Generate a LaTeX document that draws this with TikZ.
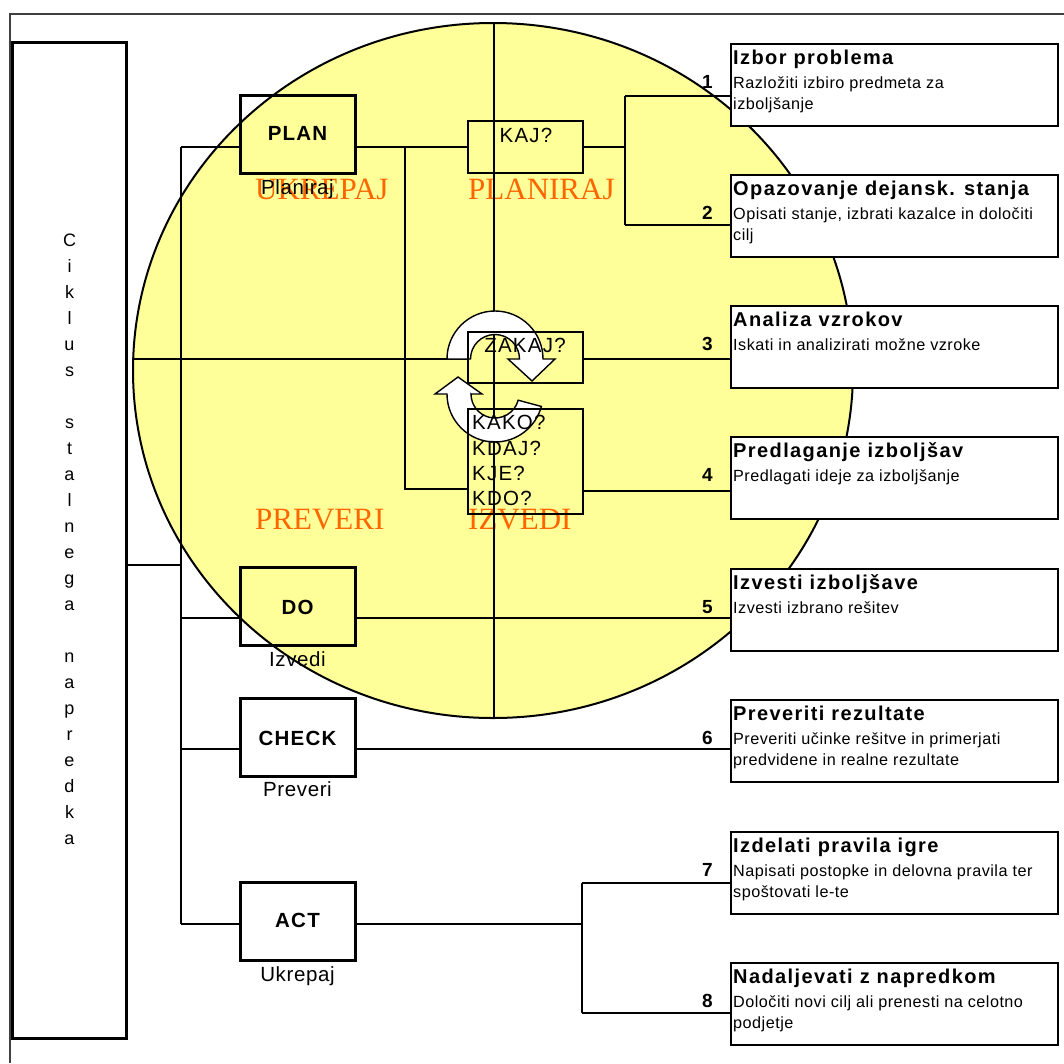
\documentclass[tikz,border=0pt]{standalone}
\usepackage{fontspec}
\setmainfont{Liberation Sans}
\newfontfamily\fTitle[LetterSpace=7]{Liberation Sans}
\newfontfamily\fDesc[LetterSpace=3]{Liberation Sans}
\newfontfamily\fPd[LetterSpace=6]{Liberation Sans}
\newfontfamily\fQ[LetterSpace=6]{Liberation Sans}
\newfontfamily\fCap[LetterSpace=3]{Liberation Sans}
\newfontfamily\fOr{Liberation Serif}
\definecolor{yel}{RGB}{255,255,153}
\definecolor{org}{RGB}{255,102,0}
\definecolor{frm}{RGB}{64,64,64}
\pgfdeclarelayer{bg}
\pgfsetlayers{bg,main}
\newcommand\RBox[6]{%
  \node[rbx] (#1) at (730,#2) {};
  \node[numl] (#1n) at (713,#2+45) {#3};
  \node[ttl] (#1t) at (733,#2+21) {#4};
  \node[dsc] (#1a) at (733,#2+45) {#5};
  \node[dsc] (#1b) at (733,#2+66) {#6};
}
\begin{document}
\begin{tikzpicture}[x=1pt,y=-1pt,
  conn/.style={line width=1.6pt},
  pdca/.style={draw,line width=3pt,minimum width=115pt,minimum height=78pt,inner sep=0pt},
  qbox/.style={draw,line width=2.8pt,minimum width=115pt,inner sep=0pt},
  rbx/.style={draw,fill=white,line width=1.8pt,minimum width=327pt,minimum height=82pt,inner sep=0pt,anchor=north west},
  ttl/.style={font=\fTitle\bfseries\fontsize{20}{22}\selectfont,anchor=base west,inner sep=0pt},
  dsc/.style={font=\fDesc\fontsize{16.2}{18}\selectfont,anchor=base west,inner sep=0pt},
  numl/.style={font=\bfseries\fontsize{19}{20}\selectfont,anchor=base east,inner sep=0pt},
  pdl/.style={font=\fPd\bfseries\fontsize{20.5}{22}\selectfont,anchor=base,inner sep=0pt},
  capt/.style={font=\fCap\fontsize{20.5}{22}\selectfont,anchor=base,inner sep=0pt},
  qt/.style={font=\fQ\fontsize{20.5}{22}\selectfont,inner sep=0pt},
  orl/.style={font=\fOr\fontsize{31}{33}\selectfont,text=org,anchor=base west,inner sep=0pt},
  arr/.style={draw,fill=white,line width=1.4pt,line join=miter},
]
\useasboundingbox (0,0) rectangle (1064,1063);

% left tall box with vertical text
\node[draw,line width=3.3pt,minimum width=114pt,minimum height=996pt,inner sep=0pt] (lbox) at (69.5,540.5) {};
\node[anchor=north,align=center,inner sep=0pt,font=\fontsize{18}{26}\selectfont] (ciklus) at (69.5,233.5)
 {C\\i\\k\\l\\u\\s\\[26pt]s\\t\\a\\l\\n\\e\\g\\a\\[26pt]n\\a\\p\\r\\e\\d\\k\\a};

% PDCA boxes
\node[pdca] (plan) at (297.5,134) {};
\node[pdca] (do) at (297.5,606) {};
\node[pdca] (check) at (297.5,737.5) {};
\node[pdca] (act) at (297.5,921.5) {};
\node[pdl] (planL) at (297.5,140.7) {PLAN};
\node[pdl] (doL) at (297.5,614) {DO};
\node[pdl] (checkL) at (297.5,745) {CHECK};
\node[pdl] (actL) at (297.5,927.7) {ACT};
\node[capt] (planC) at (297.5,194) {Planiraj};
\node[capt] (doC) at (297.5,666) {Izvedi};
\node[capt] (checkC) at (297.5,796) {Preveri};
\node[capt] (actC) at (297.5,981.7) {Ukrepaj};

% question boxes
\node[qbox,minimum height=52pt] (kaj) at (525.5,147) {};
\node[qbox,minimum height=51pt] (zakaj) at (525.5,357.5) {};
\node[qbox,minimum height=105pt] (kako) at (525.5,461.5) {};
\node[qt,anchor=base] (kajT) at (526,142.7) {KAJ?};
\node[qt,anchor=base] (zakajT) at (525,352.3) {ZAKAJ?};
\node[qt,anchor=base west] (k1) at (472,429) {KAKO?};
\node[qt,anchor=base west] (k2) at (472,455) {KDAJ?};
\node[qt,anchor=base west] (k3) at (472,480) {KJE?};
\node[qt,anchor=base west] (k4) at (472,505) {KDO?};

% right boxes
\RBox{b1}{43}{1}{Izbor problema}{Razložiti izbiro predmeta za}{izboljšanje}
\RBox{b2}{174}{2}{Opazovanje dejansk. stanja}{Opisati stanje, izbrati kazalce in določiti}{cilj}
\RBox{b3}{305}{3}{Analiza vzrokov}{Iskati in analizirati možne vzroke}{}
\RBox{b4}{436}{4}{Predlaganje izboljšav}{Predlagati ideje za izboljšanje}{}
\RBox{b5}{568}{5}{Izvesti izboljšave}{Izvesti izbrano rešitev}{}
\RBox{b6}{699}{6}{Preveriti rezultate}{Preveriti učinke rešitve in primerjati}{predvidene in realne rezultate}
\RBox{b7}{831}{7}{Izdelati pravila igre}{Napisati postopke in delovna pravila ter}{spoštovati le-te}
\RBox{b8}{962}{8}{Nadaljevati z napredkom}{Določiti novi cilj ali prenesti na celotno}{podjetje}

\begin{pgfonlayer}{bg}
\draw[frm,line width=2pt] (9.5,1063) -- (9.5,14) -- (1064,14);
\draw[line width=2pt,fill=yel] (493,370.5) ellipse [x radius=360, y radius=347.5];
\node[orl] (ukr) at (255,199) {UKREPAJ};
\node[orl] (pla) at (468,199) {PLANIRAJ};
\node[orl] (pre) at (255,529) {PREVERI};
\node[orl] (izv) at (468,529) {IZVEDI};
% circle cross
\draw[conn] (494,23) -- (494,718);
\draw[line width=2pt] (133.2,359) -- (zakaj.west |- 0,359);
% connectors
\coordinate (sP) at (181,147);
\coordinate (sL) at (181,565);
\coordinate (sD) at (181,618);
\coordinate (sC) at (181,749);
\coordinate (sA) at (181,924);
\draw[conn] (sP) -- (sA);
\draw[conn] (lbox.east |- sL) -- (sL);
\draw[conn] (sP) -- (plan.west |- sP);
\draw[conn] (sD) -- (do.west |- sD);
\draw[conn] (sC) -- (check.west |- sC);
\draw[conn] (sA) -- (act.west |- sA);
\draw[conn] (plan.east |- sP) -- (kaj.west |- sP);
\coordinate (jK) at (405,147);
\coordinate (jK2) at (405,489);
\draw[conn] (jK) -- (jK2) -- (kako.west |- jK2);
\coordinate (rK) at (625,147);
\coordinate (r1) at (625,96);
\coordinate (r2) at (625,225);
\draw[conn] (kaj.east |- rK) -- (rK);
\draw[conn] (r1) -- (r2);
\draw[conn] (r1) -- (b1.west |- r1);
\draw[conn] (r2) -- (b2.west |- r2);
\draw[line width=2.6pt] (zakaj.east |- 0,359) -- (b3.west |- 0,359);
\draw[conn] (kako.east |- 0,491) -- (b4.west |- 0,491);
\draw[conn] (do.east |- sD) -- (b5.west |- sD);
\draw[conn] (check.east |- sC) -- (b6.west |- sC);
\coordinate (aA) at (582,924);
\coordinate (a1) at (582,883);
\coordinate (a2) at (582,1013);
\draw[conn] (act.east |- sA) -- (aA);
\draw[conn] (a1) -- (a2);
\draw[conn] (a1) -- (b7.west |- a1);
\draw[conn] (a2) -- (b8.west |- a2);
% curved arrows
\draw[arr] (447,359) arc[start angle=180, end angle=360, radius=48]
  -- (555,359) -- (532,381) -- (508,359) -- (519.5,359)
  arc[start angle=0, end angle=-180, radius=24.5] -- cycle;
\draw[arr] (471,394) -- (482,394) -- (458,377) -- (435,394) -- (447,394)
  arc[start angle=180, end angle=15, radius=48] -- (518.18,400.21)
  arc[start angle=15, end angle=180, radius=24] -- cycle;
\end{pgfonlayer}
\end{tikzpicture}
\end{document}
